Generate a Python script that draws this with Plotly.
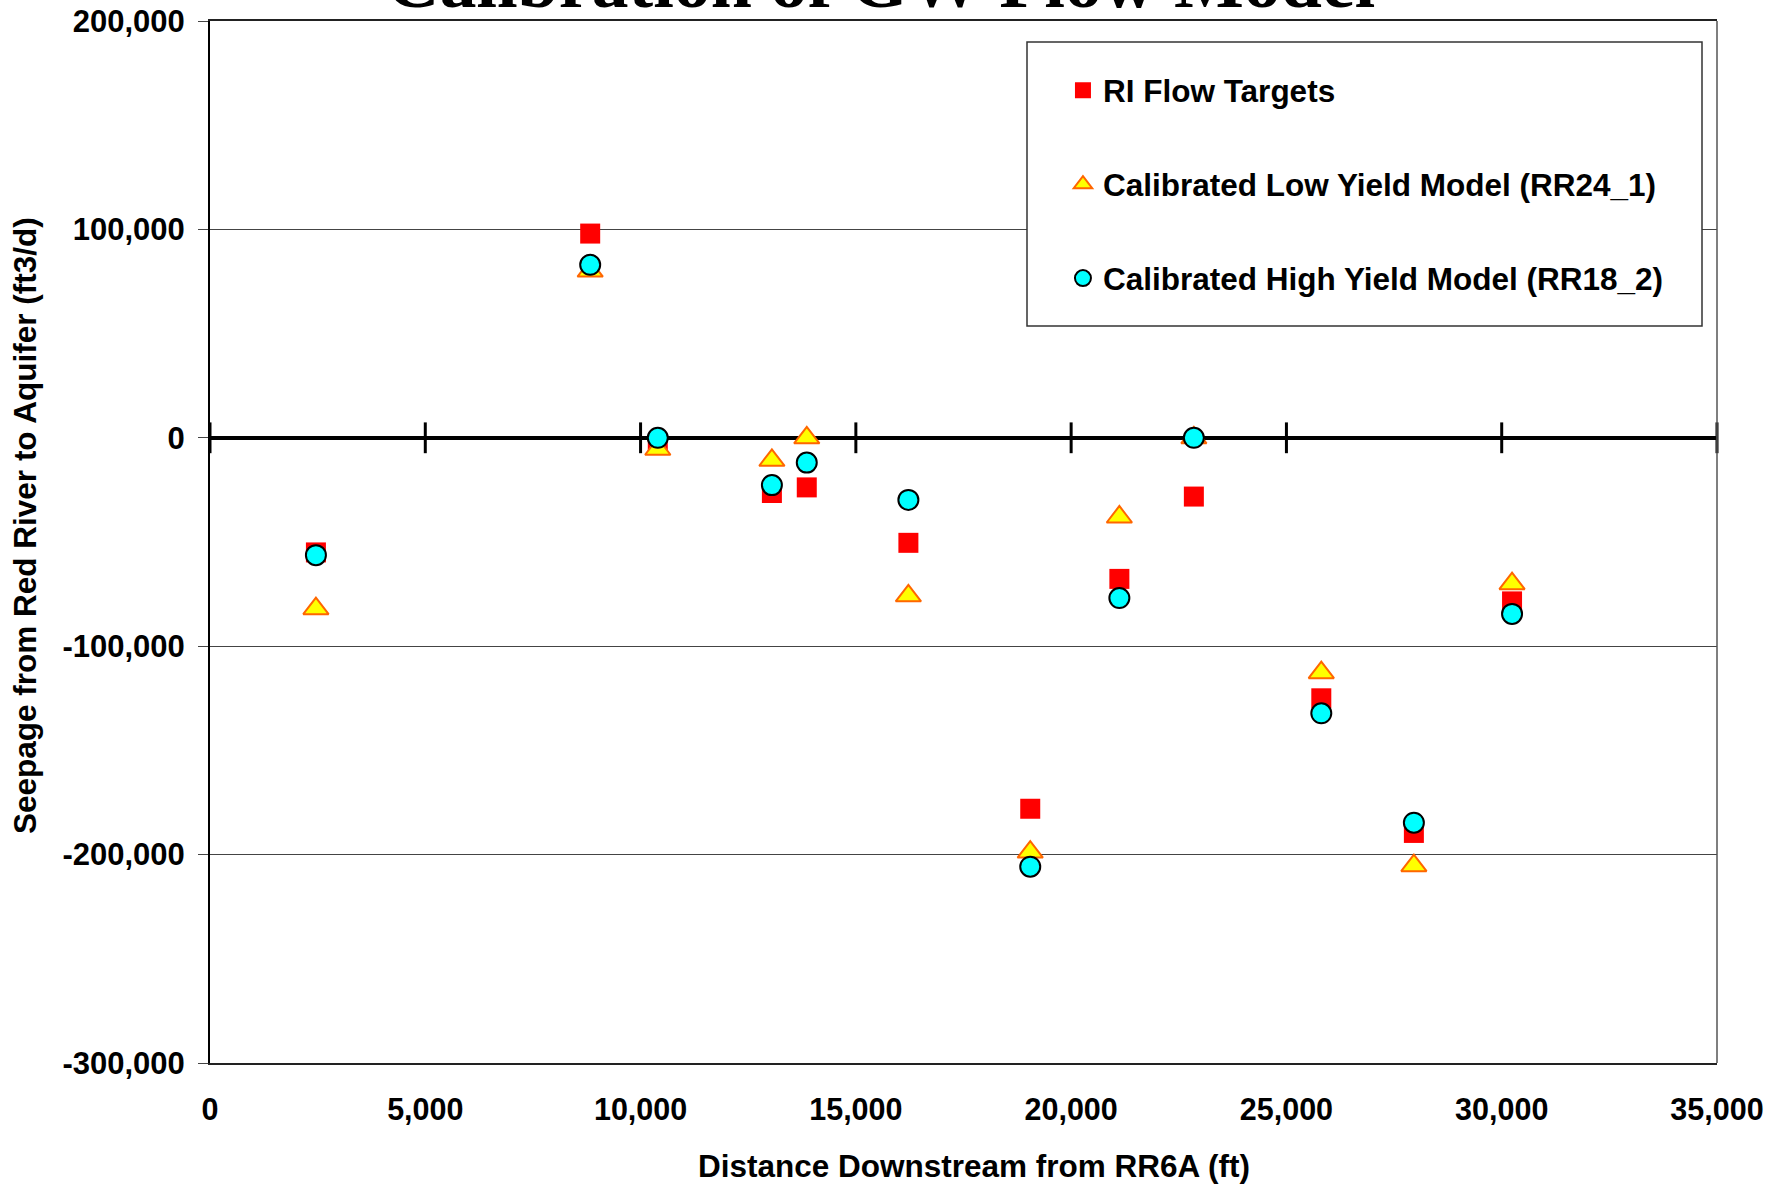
import plotly.graph_objects as go

# ---- data ----
distance_ft = [2460, 8830, 10400, 13050, 13860, 16220, 19050, 21120, 22850, 25810, 27960, 30240]
ri_flow_targets = [-55000, 98000, -3000, -26500, -23800, -50400, -178000, -67700, -28200, -125000, -189600, -78500]
low_yield_rr24_1 = [-82000, 80000, -5500, -10800, 0, -75800, -198800, -38000, 0, -112700, -205300, -70000]
high_yield_rr18_2 = [-56300, 83000, 0, -22700, -11900, -29800, -205800, -76900, 0, -132200, -184700, -84500]

x_tick_vals = [0, 5000, 10000, 15000, 20000, 25000, 30000, 35000]
x_tick_text = ["0", "5,000", "10,000", "15,000", "20,000", "25,000", "30,000", "35,000"]
y_tick_vals = [200000, 100000, 0, -100000, -200000, -300000]
y_tick_text = ["200,000", "100,000", "0", "-100,000", "-200,000", "-300,000"]

FONT = "Liberation Sans, Arial, sans-serif"

fig = go.Figure()

# tick marks crossing the zero axis line
fig.add_trace(go.Scatter(
    x=x_tick_vals, y=[0] * len(x_tick_vals), mode="markers",
    marker=dict(symbol="line-ns", size=22, line=dict(color="black", width=3)),
    showlegend=False, hoverinfo="skip", cliponaxis=False))

fig.add_trace(go.Scatter(
    x=distance_ft, y=ri_flow_targets, mode="markers", name="RI Flow Targets",
    legendgroup="a",
    marker=dict(symbol="square", size=20, color="#FF0000", line=dict(width=0)),
    cliponaxis=False))
fig.add_trace(go.Scatter(
    x=distance_ft, y=low_yield_rr24_1, mode="markers", name="Calibrated Low Yield Model (RR24_1)",
    legendgroup="b",
    marker=dict(symbol="triangle-up", size=22, color="#FFFF00", line=dict(color="#FF6600", width=2)),
    cliponaxis=False))
fig.add_trace(go.Scatter(
    x=distance_ft, y=high_yield_rr18_2, mode="markers", name="Calibrated High Yield Model (RR18_2)",
    legendgroup="c",
    marker=dict(symbol="circle", size=20, color="#00FFFF", line=dict(color="black", width=2)),
    cliponaxis=False))

fig.update_layout(
    width=1770, height=1184,
    margin=dict(l=210, r=53, t=21, b=121, autoexpand=False),
    paper_bgcolor="white", plot_bgcolor="white",
    font=dict(family=FONT, size=30, color="black", weight="bold"),
    showlegend=True,
    legend=dict(
        x=0.566, y=0.9595, xanchor="left", yanchor="top",
        bgcolor="rgba(0,0,0,0)", borderwidth=0,
        traceorder="grouped", tracegroupgap=50,
        font=dict(family=FONT, size=31.5, color="black", weight="bold"),
    ),
    xaxis=dict(
        range=[0, 35000], tickvals=x_tick_vals, ticktext=x_tick_text,
        showgrid=False, zeroline=False, ticks="", automargin=False,
        showline=True, linecolor="#222", linewidth=2, mirror=True,
        tickfont=dict(family=FONT, size=30.5, color="black", weight="bold"),
        ticklabelstandoff=18,
    ),
    yaxis=dict(
        range=[-300000, 200000], tickvals=y_tick_vals, ticktext=y_tick_text,
        showgrid=True, gridcolor="#444", gridwidth=1, automargin=False,
        zeroline=True, zerolinecolor="black", zerolinewidth=4,
        showline=True, linecolor="black", linewidth=2,
        ticks="outside", ticklen=10, tickcolor="#444", tickwidth=1,
        tickfont=dict(family=FONT, size=31, color="black", weight="bold"),
        ticklabelstandoff=7,
    ),
    annotations=[
        dict(text="Calibration of GW Flow Model", xref="paper", yref="paper",
             x=(880 - 210) / 1507, y=1.0, xanchor="center", yanchor="bottom",
             yshift=-4, showarrow=False,
             font=dict(family="Liberation Serif, Times New Roman, serif", size=74,
                       color="black", weight="bold")),
        dict(text="Distance Downstream from RR6A (ft)", xref="paper", yref="paper",
             x=0.507, y=-(1166 - 1063) / 1042, xanchor="center", yanchor="middle",
             showarrow=False, font=dict(family=FONT, size=31.5, color="black", weight="bold")),
        dict(text="Seepage from Red River to Aquifer (ft3/d)", xref="paper", yref="paper",
             x=(25 - 210) / 1507, y=(1063 - 526) / 1042, xanchor="center", yanchor="middle",
             textangle=-90, showarrow=False,
             font=dict(family=FONT, size=31.5, color="black", weight="bold")),
    ],
    shapes=[
        # legend box
        dict(type="rect", xref="paper", yref="paper",
             x0=(1027 - 210) / 1507, x1=(1702 - 210) / 1507,
             y0=(1063 - 326) / 1042, y1=(1063 - 42) / 1042,
             line=dict(color="#333", width=1.5), fillcolor="white", layer="above"),
        # right border of plot area
        dict(type="line", xref="paper", yref="paper", x0=1, x1=1, y0=0, y1=1,
             line=dict(color="#555", width=1.5), layer="above"),
    ],
)

fig.write_html("out.html", config={"displayModeBar": False},
               post_script="document.body.style.margin='0';")
